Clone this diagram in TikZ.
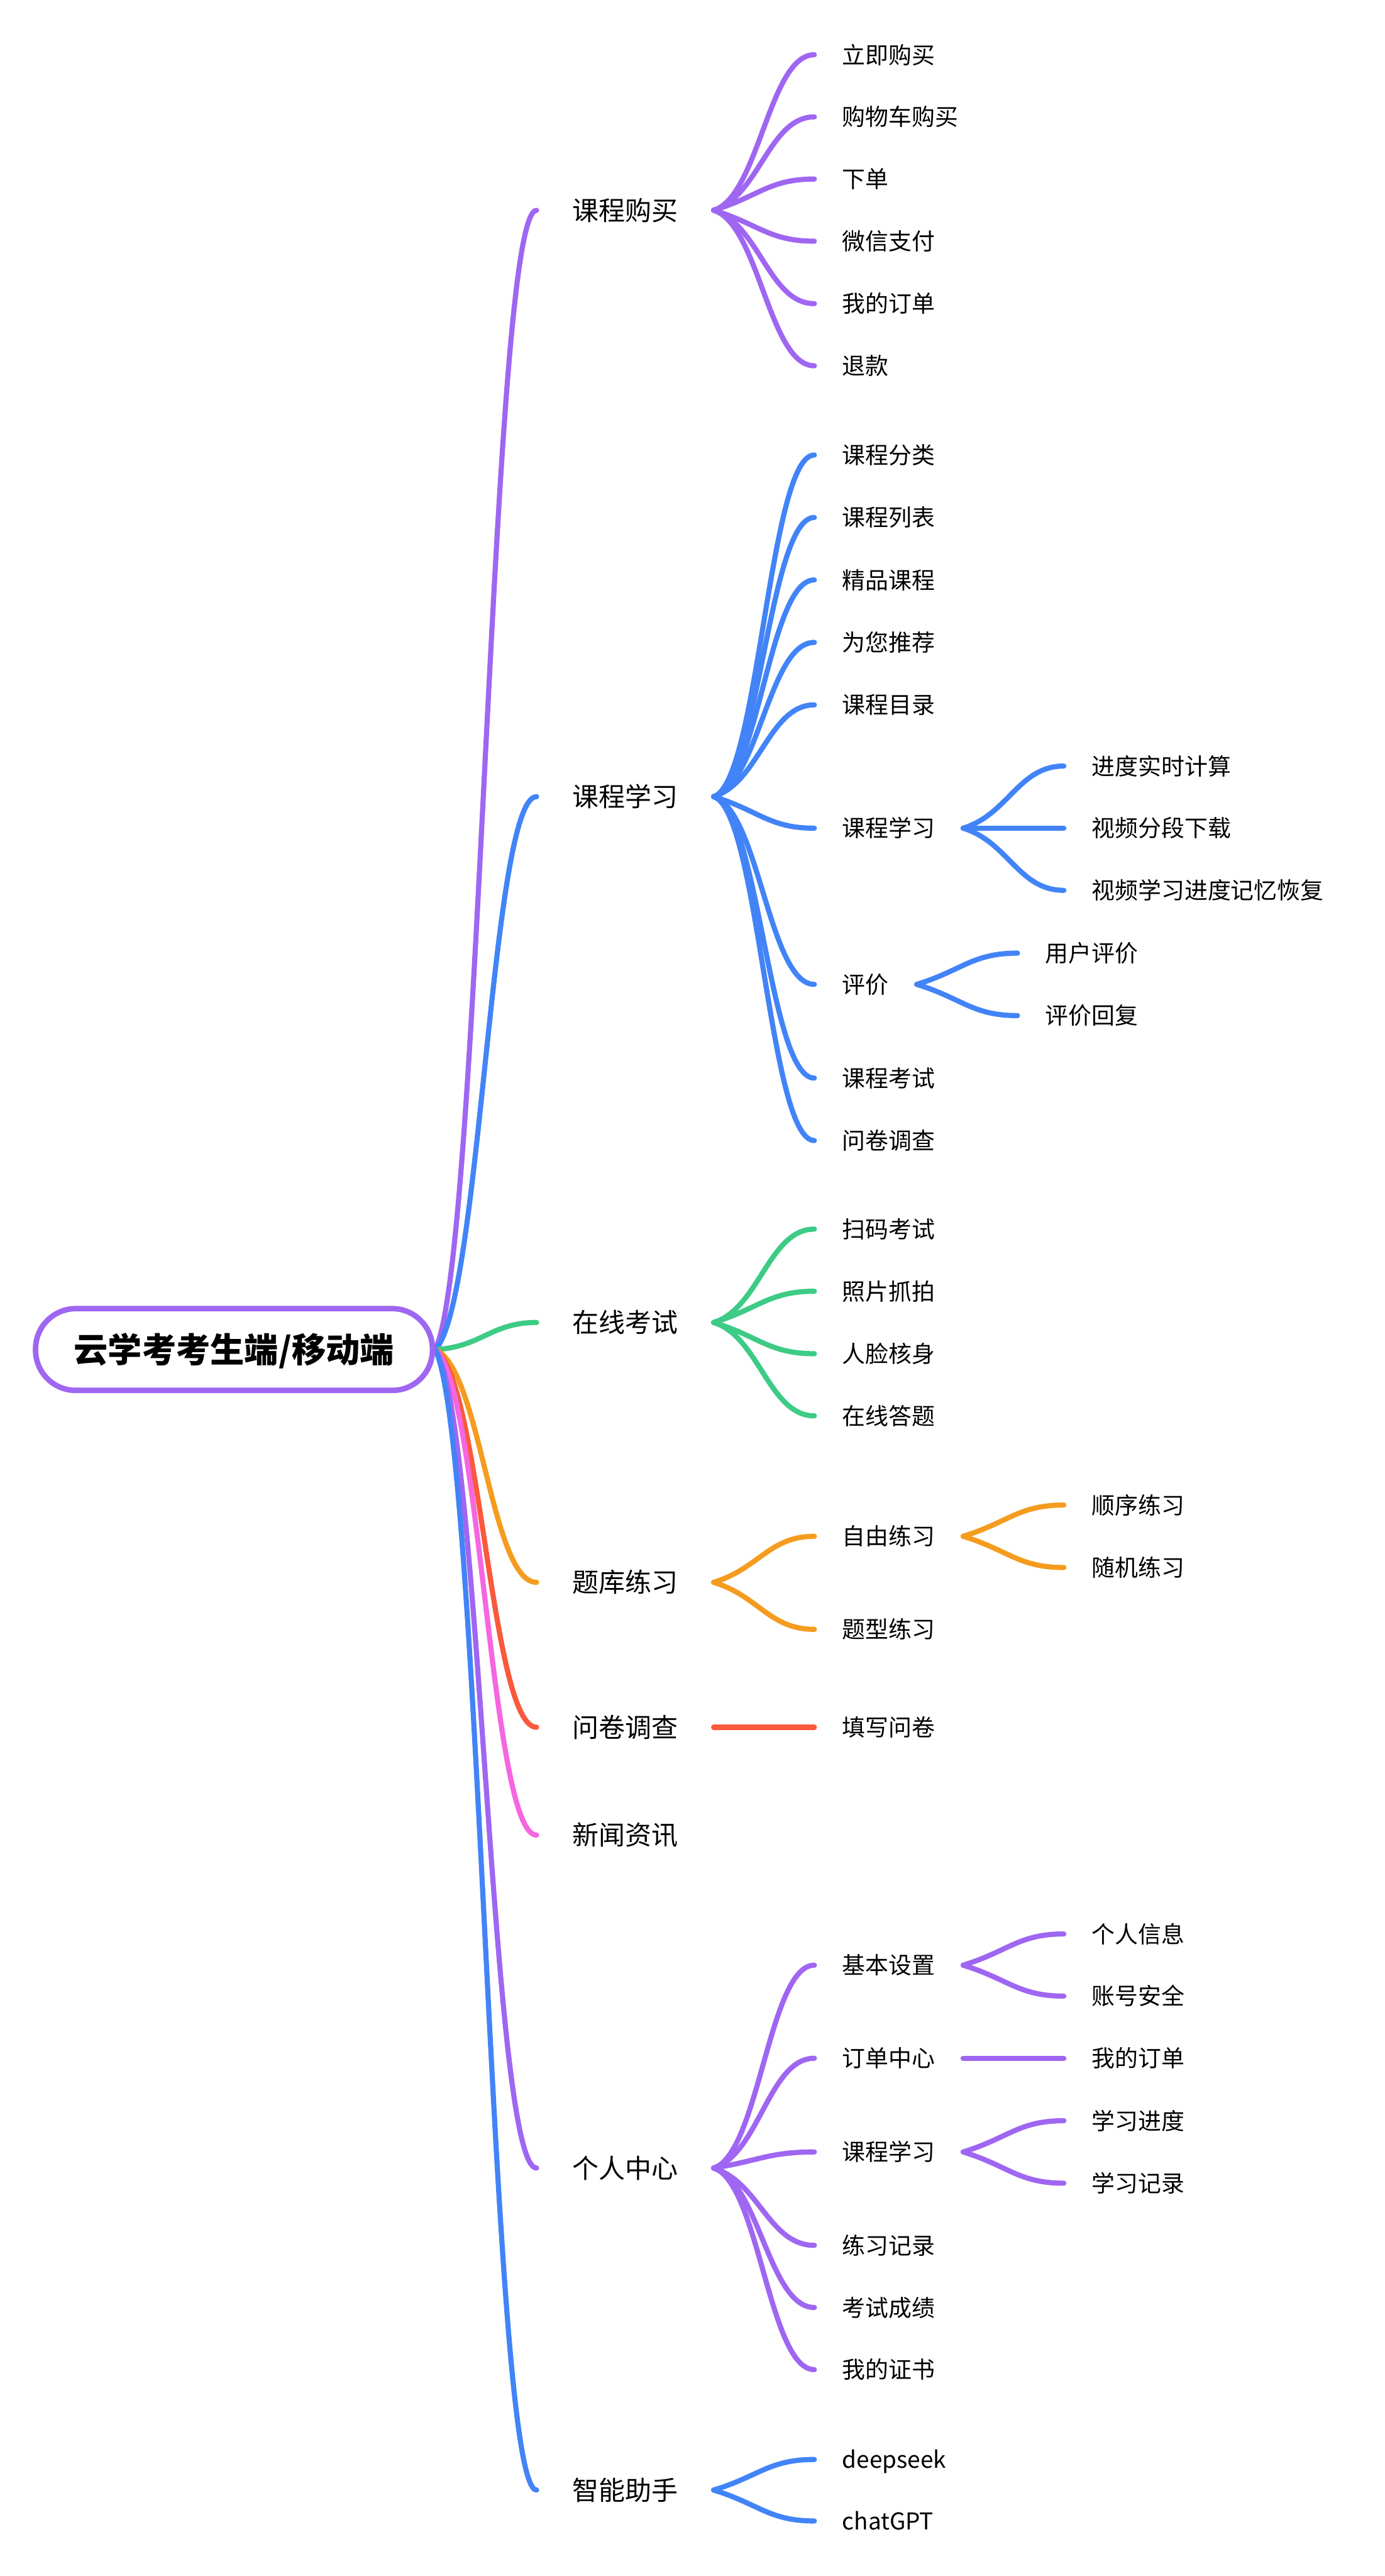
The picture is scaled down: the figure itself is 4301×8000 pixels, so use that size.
\documentclass[tikz,border=0pt]{standalone}
\usepackage{fontspec}
\setmainfont{Noto Sans CJK SC}
\usetikzlibrary{calc}
\definecolor{cpur}{HTML}{9F66F2}
\definecolor{cblu}{HTML}{4284F7}
\definecolor{cgrn}{HTML}{3DCB85}
\definecolor{corg}{HTML}{F59C1F}
\definecolor{cred}{HTML}{FA593C}
\definecolor{cpnk}{HTML}{F566DF}
\pgfdeclarelayer{back}
\pgfdeclarelayer{bg}
\pgfsetlayers{back,bg,main}
\newcommand\cone[3]{\draw[conn,#1] let \p1=(#2.east),\p2=(#3.west) in (\p1) .. controls ({\x1+0.45*(\x2-\x1)},{\y1+0.08*(\y2-\y1)}) and ({\x2-0.45*(\x2-\x1)},\y2) .. (\p2);}
\newcommand\ctwo[3]{\draw[conn,#1] let \p1=(#2.east),\p2=(#3.west) in (\p1) .. controls ({\x1+0.45*(\x2-\x1)},{\y1+sign(\y2-\y1)*min(0.45*abs(\y2-\y1),8.6)}) and ({\x2-0.45*(\x2-\x1)},\y2) .. (\p2);}
\begin{document}
\begin{tikzpicture}[x=0.2pt,y=-0.2pt,
 root/.style={draw=cpur,line width=3.4pt,fill=white,rounded corners=25pt,minimum width=246.6pt,minimum height=50.8pt,inner sep=0pt,text height=18.66pt,text depth=2.54pt,font=\fontsize{21.2pt}{26pt}\selectfont\bfseries},
 lone/.style={anchor=west,inner xsep=22pt,inner ysep=0pt,text height=14.43pt,text depth=1.97pt,font=\fontsize{16.4pt}{20pt}\selectfont},
 ltwo/.style={anchor=west,inner xsep=17.2pt,inner ysep=0pt,text height=12.67pt,text depth=1.73pt,font=\fontsize{14.4pt}{18pt}\selectfont},
 conn/.style={line width=3.2pt,line cap=round}]
\begin{pgfonlayer}{back}
\fill[white] (0,0) rectangle (4301,8000);
\end{pgfonlayer}
\useasboundingbox (0,0) rectangle (4301,8000);
% root
\node[root] (R) at (727,4191) {云学考考生端/移动端};
% level 1
\node[lone] (A) at (1667,653) {课程购买};
\node[lone] (B) at (1667,2474) {课程学习};
\node[lone] (C) at (1667,4107) {在线考试};
\node[lone] (D) at (1667,4914) {题库练习};
\node[lone] (E) at (1667,5364) {问卷调查};
\node[lone] (F) at (1667,5699) {新闻资讯};
\node[lone] (G) at (1667,6733) {个人中心};
\node[lone] (H) at (1667,7733) {智能助手};
% level 2 - A
\node[ltwo] (A1) at (2530,170) {立即购买};
\node[ltwo] (A2) at (2530,363) {购物车购买};
\node[ltwo] (A3) at (2530,556) {下单};
\node[ltwo] (A4) at (2530,749) {微信支付};
\node[ltwo] (A5) at (2530,943) {我的订单};
\node[ltwo] (A6) at (2530,1136) {退款};
% B
\node[ltwo] (B1) at (2530,1413) {课程分类};
\node[ltwo] (B2) at (2530,1607) {课程列表};
\node[ltwo] (B3) at (2530,1801) {精品课程};
\node[ltwo] (B4) at (2530,1995) {为您推荐};
\node[ltwo] (B5) at (2530,2189) {课程目录};
\node[ltwo] (B6) at (2530,2572) {课程学习};
\node[ltwo] (B7) at (2530,3057) {评价};
\node[ltwo] (B8) at (2530,3348) {课程考试};
\node[ltwo] (B9) at (2530,3542) {问卷调查};
\node[ltwo] (B61) at (3305,2379) {进度实时计算};
\node[ltwo] (B62) at (3305,2572) {视频分段下载};
\node[ltwo] (B63) at (3305,2765) {视频学习进度记忆恢复};
\node[ltwo] (B71) at (3161,2960) {用户评价};
\node[ltwo] (B72) at (3161,3154) {评价回复};
% C
\node[ltwo] (C1) at (2530,3817) {扫码考试};
\node[ltwo] (C2) at (2530,4010) {照片抓拍};
\node[ltwo] (C3) at (2530,4204) {人脸核身};
\node[ltwo] (C4) at (2530,4397) {在线答题};
% D
\node[ltwo] (D1) at (2530,4771) {自由练习};
\node[ltwo] (D2) at (2530,5060) {题型练习};
\node[ltwo] (D11) at (3305,4674) {顺序练习};
\node[ltwo] (D12) at (3305,4868) {随机练习};
% E
\node[ltwo] (E1) at (2530,5364) {填写问卷};
% G
\node[ltwo] (G1) at (2530,6103) {基本设置};
\node[ltwo] (G2) at (2530,6392) {订单中心};
\node[ltwo] (G3) at (2530,6683) {课程学习};
\node[ltwo] (G4) at (2530,6973) {练习记录};
\node[ltwo] (G5) at (2530,7166) {考试成绩};
\node[ltwo] (G6) at (2530,7359) {我的证书};
\node[ltwo] (G11) at (3305,6006) {个人信息};
\node[ltwo] (G12) at (3305,6199) {账号安全};
\node[ltwo] (G21) at (3305,6392) {我的订单};
\node[ltwo] (G31) at (3305,6586) {学习进度};
\node[ltwo] (G32) at (3305,6780) {学习记录};
% H
\node[ltwo] (H1) at (2530,7638) {deepseek};
\node[ltwo] (H2) at (2530,7829) {chatGPT};
% connectors
\begin{pgfonlayer}{bg}
\cone{cpur}{R}{A}
\cone{cblu}{R}{B}
\cone{cgrn}{R}{C}
\cone{corg}{R}{D}
\cone{cred}{R}{E}
\cone{cpnk}{R}{F}
\cone{cpur}{R}{G}
\cone{cblu}{R}{H}
\foreach \c in {A1,A2,A3,A4,A5,A6}{\ctwo{cpur}{A}{\c}}
\foreach \c in {B1,B2,B3,B4,B5,B6,B7,B8,B9}{\ctwo{cblu}{B}{\c}}
\foreach \c in {B61,B62,B63}{\ctwo{cblu}{B6}{\c}}
\foreach \c in {B71,B72}{\ctwo{cblu}{B7}{\c}}
\foreach \c in {C1,C2,C3,C4}{\ctwo{cgrn}{C}{\c}}
\foreach \c in {D1,D2}{\ctwo{corg}{D}{\c}}
\foreach \c in {D11,D12}{\ctwo{corg}{D1}{\c}}
\ctwo{cred}{E}{E1}
\foreach \c in {G1,G2,G3,G4,G5,G6}{\ctwo{cpur}{G}{\c}}
\foreach \c in {G11,G12}{\ctwo{cpur}{G1}{\c}}
\ctwo{cpur}{G2}{G21}
\foreach \c in {G31,G32}{\ctwo{cpur}{G3}{\c}}
\foreach \c in {H1,H2}{\ctwo{cblu}{H}{\c}}
\end{pgfonlayer}
\end{tikzpicture}
\end{document}
